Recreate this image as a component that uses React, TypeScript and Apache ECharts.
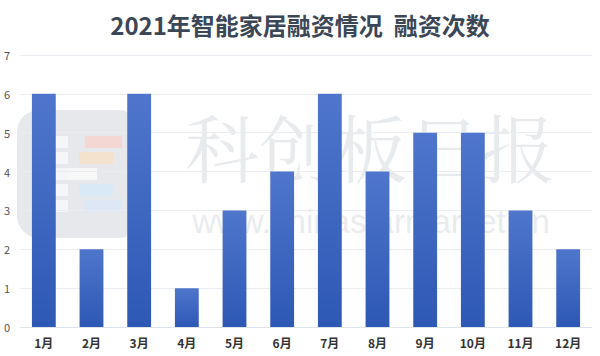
import React, { useEffect, useRef } from "react";
import * as echarts from "echarts";

const categories = ["1月", "2月", "3月", "4月", "5月", "6月", "7月", "8月", "9月", "10月", "11月", "12月"];
const counts = [6, 2, 6, 1, 3, 4, 6, 4, 5, 5, 3, 2];
const yTicks = { min: 0, max: 7, interval: 1 };
const titleText = "2021年智能家居融资情况  融资次数";
const watermarkCn = "科创板日报";
const watermarkUrl = "www.chinastarmarket.cn";

export default function App() {
  const ref = useRef<HTMLDivElement>(null);
  useEffect(() => {
    if (!ref.current) return;
    const chart = echarts.init(ref.current, undefined, { renderer: "svg" });
    const wm = "rgba(205,210,216,0.45)";
    const logoRows = [
      { y: 136, c: "rgba(255,200,190,0.55)", x: 85, w: 37 },
      { y: 152, c: "rgba(255,220,180,0.55)", x: 79, w: 34 },
      { y: 168, c: "rgba(255,255,255,0.7)", x: 68, w: 29 },
      { y: 184, c: "rgba(205,235,255,0.55)", x: 79, w: 34 },
      { y: 200, c: "rgba(215,230,255,0.55)", x: 84, w: 38 },
    ];
    const logoEls: any[] = [
      {
        type: "rect",
        shape: { x: 17, y: 110, width: 124, height: 128, r: 22 },
        style: { fill: "rgba(200,204,210,0.45)" },
      },
    ];
    logoRows.forEach((r) => {
      logoEls.push({
        type: "rect",
        shape: { x: 45, y: r.y, width: 23, height: 12 },
        style: { fill: "rgba(255,255,255,0.6)" },
      });
      logoEls.push({
        type: "rect",
        shape: { x: r.x, y: r.y, width: r.w, height: 12 },
        style: { fill: r.c },
      });
    });
    chart.setOption({
      animation: false,
      backgroundColor: "#ffffff",
      title: {
        text: titleText,
        left: "center",
        top: 7,
        textStyle: {
          fontFamily: "Noto Sans CJK SC",
          fontSize: 24,
          fontWeight: "bold",
          color: "#3b4656",
        },
      },
      grid: { left: 20, right: 8, top: 55, bottom: 29, containLabel: false },
      xAxis: {
        type: "category",
        data: categories,
        axisLine: { lineStyle: { color: "#dde3ea" } },
        axisTick: { show: false },
        axisLabel: {
          margin: 9,
          fontFamily: "Noto Sans CJK SC",
          fontSize: 12,
          fontWeight: "bold",
          color: "#333",
        },
      },
      yAxis: {
        type: "value",
        min: yTicks.min,
        max: yTicks.max,
        interval: yTicks.interval,
        axisLine: { show: false },
        axisTick: { show: false },
        splitLine: { lineStyle: { color: "#e9edf1" } },
        axisLabel: {
          margin: 10,
          fontFamily: "Noto Sans CJK SC",
          fontSize: 11,
          color: "#555",
        },
      },
      series: [
        {
          type: "bar",
          data: counts,
          barWidth: "50%",
          itemStyle: {
            color: new echarts.graphic.LinearGradient(0, 0, 0, 1, [
              { offset: 0, color: "#4f76cc" },
              { offset: 1, color: "#2d58b4" },
            ]),
          },
        },
      ],
      graphic: [
        {
          type: "group",
          z: 100,
          silent: true,
          children: [
            ...logoEls,
            {
              type: "text",
              x: 370,
              y: 145,
              style: {
                text: watermarkCn,
                fontFamily: "Noto Serif CJK SC, Noto Sans CJK SC",
                fontSize: 74,
                fill: wm,
                align: "center",
                verticalAlign: "middle",
              },
            },
            {
              type: "text",
              x: 371,
              y: 221,
              style: {
                text: watermarkUrl,
                fontFamily: "Liberation Sans, Arial",
                fontSize: 33,
                fill: wm,
                align: "center",
                verticalAlign: "middle",
              },
            },
          ],
        },
      ],
    });
    return () => chart.dispose();
  }, []);
  return <div ref={ref} style={{ width: 600, height: 356, position: "absolute", left: 0, top: 0 }} />;
}
